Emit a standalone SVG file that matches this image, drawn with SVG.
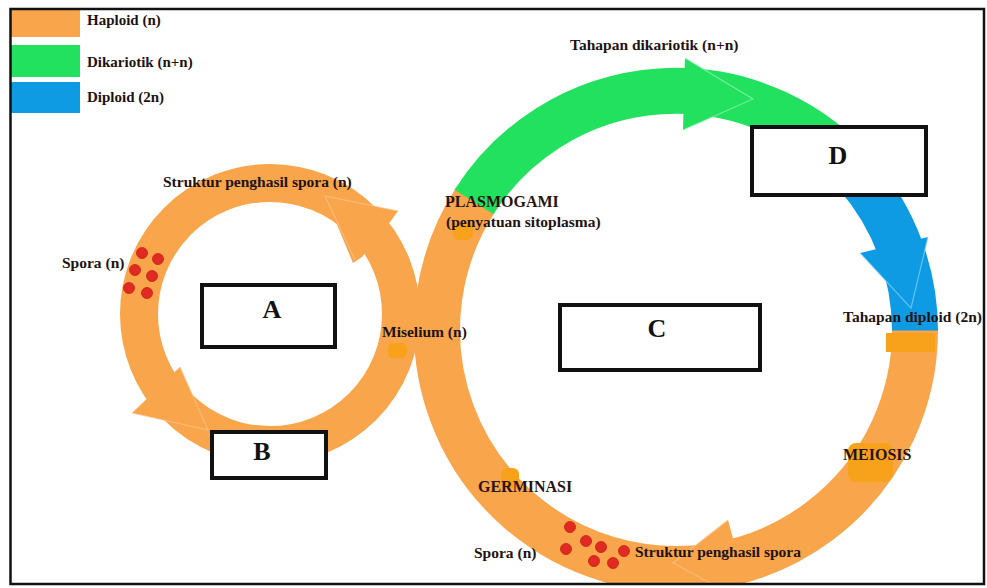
<svg xmlns="http://www.w3.org/2000/svg" width="987" height="588" viewBox="0 0 987 588">
<defs>
<clipPath id="frameClip"><rect x="10" y="9" width="974" height="575"/></clipPath>
<style>
.lbl{font-family:"Liberation Serif","Times New Roman",serif;font-weight:bold;font-size:15.5px;fill:#1e1212}
.leg{font-family:"Liberation Serif","Times New Roman",serif;font-weight:bold;font-size:15px;fill:#1e1212}
.caps{font-family:"Liberation Serif","Times New Roman",serif;font-weight:bold;font-size:16px;fill:#2a1212}
.big{font-family:"Liberation Serif","Times New Roman",serif;font-weight:bold;font-size:26px;fill:#111;text-anchor:middle}
.box{fill:#fff;stroke:#111;stroke-width:4}
.band{fill:none}
.or{stroke:#f9a54b}
.gr{stroke:#22e15e}
.bl{stroke:#0e9be4}
.spot{fill:#f8a21c}
.dot{fill:#e02a22;stroke:#c81e18;stroke-width:0.8}
.tipline{fill:none;stroke-width:1.1;stroke-opacity:0.7}
</style>
</defs>
<rect x="0" y="0" width="987" height="588" fill="#fff"/>

<g id="legend">
<rect x="10" y="10" width="70" height="27" fill="#f9a54b"/>
<rect x="10" y="45" width="70" height="32" fill="#22e15e"/>
<rect x="10" y="82" width="70" height="31" fill="#0e9be4"/>
<text class="leg" x="87" y="25">Haploid (n)</text>
<text class="leg" x="87" y="67">Dikariotik (n+n)</text>
<text class="leg" x="87" y="102">Diploid (2n)</text>
</g>

<g id="connectors" clip-path="url(#frameClip)">
<!-- small (asexual) ring -->
<circle class="band or" cx="270" cy="314" r="131" stroke-width="38"/>
<polygon points="398,211 390,222 362,257 353,263 325,196" fill="#f9a54b"/>
<polyline class="tipline" points="398,211 325,196 355,260" stroke="#fcc88e"/>
<polygon points="180,367 208,430 132,413" fill="#f9a54b"/>
<polyline class="tipline" points="180,367 208,430 132,413" stroke="#fcc88e"/>
<!-- big ring -->
<path class="band or" stroke-width="46" d="M 915 329 A 239 239 0 1 1 475.6 199.8"/>
<path class="band gr" stroke-width="46" d="M 474 202 A 239 239 0 0 1 859.1 176.4"/>
<path class="band bl" stroke-width="46" d="M 857 175 A 239 239 0 0 1 915 330.5"/>
<polygon points="685,58 753,99 683,130" fill="#22e15e"/>
<polyline class="tipline" points="685,58 753,99 683,130" stroke="#9af5b5"/>
<polygon points="860,253 928,237 911,308" fill="#0e9be4"/>
<polyline class="tipline" points="860,253 911,308 928,237" stroke="#8fd6fa"/>
<polygon points="728,520 751,605 673,563" fill="#f9a54b"/>
<polyline class="tipline" points="728,520 673,563 751,605" stroke="#fcc88e"/>
<!-- darker orange stage spots -->
<rect class="spot" x="886" y="333" width="49" height="19"/>
<rect class="spot" x="848" y="443" width="45" height="39" rx="8"/>
<rect class="spot" x="501" y="468" width="18" height="20" rx="6"/>
<rect class="spot" x="388" y="343" width="19" height="15" rx="5"/>
<rect class="spot" x="453" y="222" width="20" height="18" rx="6"/>
</g>

<g id="spores-left">
<circle class="dot" cx="142" cy="253" r="5.5"/>
<circle class="dot" cx="158" cy="259" r="5.5"/>
<circle class="dot" cx="135" cy="270" r="5.5"/>
<circle class="dot" cx="152" cy="276" r="5.5"/>
<circle class="dot" cx="129" cy="288" r="5.5"/>
<circle class="dot" cx="147" cy="293" r="5.5"/>
</g>
<g id="spores-bottom">
<circle class="dot" cx="570" cy="527" r="5.5"/>
<circle class="dot" cx="586" cy="541" r="5.5"/>
<circle class="dot" cx="601" cy="547" r="5.5"/>
<circle class="dot" cx="566" cy="549" r="5.5"/>
<circle class="dot" cx="594" cy="561" r="5.5"/>
<circle class="dot" cx="613" cy="563" r="5.5"/>
<circle class="dot" cx="624" cy="551" r="5.5"/>
</g>

<g id="labels">
<text class="lbl" x="570" y="50">Tahapan dikariotik (n+n)</text>
<text class="lbl" x="163" y="187">Struktur penghasil spora (n)</text>
<text class="lbl" x="62" y="268">Spora (n)</text>
<text class="caps" x="445" y="207">PLASMOGAMI</text>
<text class="lbl" x="446" y="227">(penyatuan sitoplasma)</text>
<text class="lbl" x="382" y="337">Miselium (n)</text>
<text class="lbl" x="843" y="322">Tahapan diploid (2n)</text>
<text class="caps" x="843" y="460">MEIOSIS</text>
<text class="caps" x="478" y="492">GERMINASI</text>
<text class="lbl" x="474" y="558">Spora (n)</text>
<text class="lbl" x="635" y="557">Struktur penghasil spora</text>
</g>

<g id="box-A"><rect class="box" x="202" y="285" width="133" height="62"/><text class="big" x="272" y="318">A</text></g>
<g id="box-B"><rect class="box" x="212" y="432" width="114" height="46"/><text class="big" x="262" y="460">B</text></g>
<g id="box-C"><rect class="box" x="560" y="305" width="200" height="65"/><text class="big" x="657" y="337">C</text></g>
<g id="box-D"><rect class="box" x="752" y="127" width="174" height="68"/><text class="big" x="838" y="164">D</text></g>

<rect id="frame" x="10.5" y="9" width="973.5" height="575" fill="none" stroke="#111" stroke-width="2.5"/>
</svg>
